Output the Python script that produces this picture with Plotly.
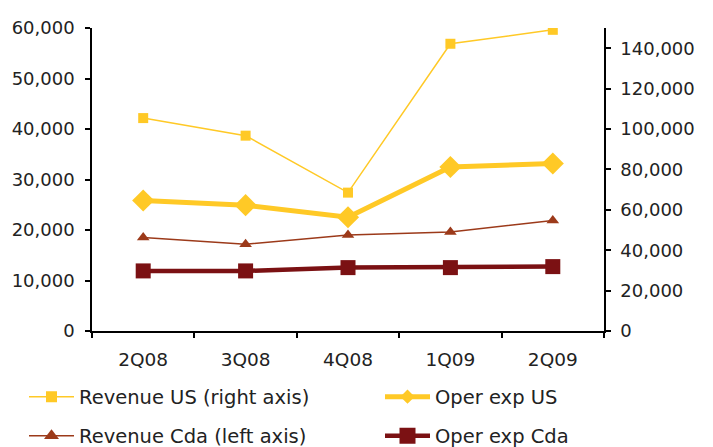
import plotly.graph_objects as go

quarters = ["2Q08", "3Q08", "4Q08", "1Q09", "2Q09"]
revenue_us = [105400, 96700, 68500, 142200, 149100]      # right axis
oper_exp_us = [64600, 62300, 56300, 81200, 82900]        # right axis
revenue_cda = [18500, 17200, 19000, 19600, 21900]        # left axis
oper_exp_cda = [11900, 11900, 12550, 12550, 12750]       # left axis

left_ticks = [0, 10000, 20000, 30000, 40000, 50000, 60000]
right_ticks = [0, 20000, 40000, 60000, 80000, 100000, 120000, 140000]

YEL = "#FFC926"
BRN = "#9C3A1A"
DRED = "#7B1113"
FONT = "DejaVu Sans"
TXT = "#222222"

series = [
    ("Revenue US (right axis)", revenue_us, "y2", YEL, 1.5, "square", 10, 11, "legend"),
    ("Oper exp US", oper_exp_us, "y2", YEL, 5, "diamond", 17, 11, "legend2"),
    ("Revenue Cda (left axis)", revenue_cda, "y", BRN, 1.5, "triangle-up", 11, 13, "legend3"),
    ("Oper exp Cda", oper_exp_cda, "y", DRED, 4.5, "square", 15, 16, "legend4"),
]

fig = go.Figure()
for name, vals, yax, col, lw, sym, ms, lms, leg in series:
    fig.add_trace(go.Scatter(x=quarters, y=vals, name=name, yaxis=yax, showlegend=False,
                             mode="lines+markers", line=dict(color=col, width=lw),
                             marker=dict(symbol=sym, size=ms, color=col)))
for name, vals, yax, col, lw, sym, ms, lms, leg in series:
    fig.add_trace(go.Scatter(x=[None], y=[None], name=name, yaxis=yax, showlegend=True, legend=leg,
                             mode="lines+markers", line=dict(color=col, width=lw),
                             marker=dict(symbol=sym, size=lms, color=col)))

axis_common = dict(showgrid=False, zeroline=False, showline=True, linecolor="black", linewidth=1.5,
                   ticks="outside", ticklen=5, tickcolor="black", tickwidth=1.5,
                   tickfont=dict(family=FONT, size=18, color=TXT))

leg_common = dict(orientation="v", xref="container", yref="container",
                  xanchor="left", yanchor="middle", itemwidth=45,
                  font=dict(family=FONT, size=19.5, color=TXT), bgcolor="rgba(0,0,0,0)")

row1 = 1 - 397 / 447
row2 = 1 - 436 / 447
col1 = 24 / 713
col2 = 380 / 713

fig.update_layout(
    width=713, height=447,
    margin=dict(l=92, r=109, t=28, b=116, autoexpand=False),
    paper_bgcolor="white", plot_bgcolor="white",
    font=dict(family=FONT, size=16, color=TXT),
    xaxis=dict(**{**axis_common, "tickfont": dict(family=FONT, size=18.5, color=TXT)},
               tickson="boundaries", range=[-0.5, 4.5], ticklabelstandoff=11),
    yaxis=dict(**axis_common, range=[0, 60000], tickvals=left_ticks,
               ticktext=[f"{v:,}" for v in left_ticks], ticklabelstandoff=7),
    yaxis2=dict(**axis_common, overlaying="y", side="right", range=[0, 150000],
                tickvals=right_ticks, ticktext=[f"{v:,}" for v in right_ticks], ticklabelstandoff=6),
    legend=dict(**leg_common, x=col1, y=row1),
    legend2=dict(**leg_common, x=col2, y=row1),
    legend3=dict(**leg_common, x=col1, y=row2),
    legend4=dict(**leg_common, x=col2, y=row2),
    showlegend=True,
)

fig.write_html("out.html")
